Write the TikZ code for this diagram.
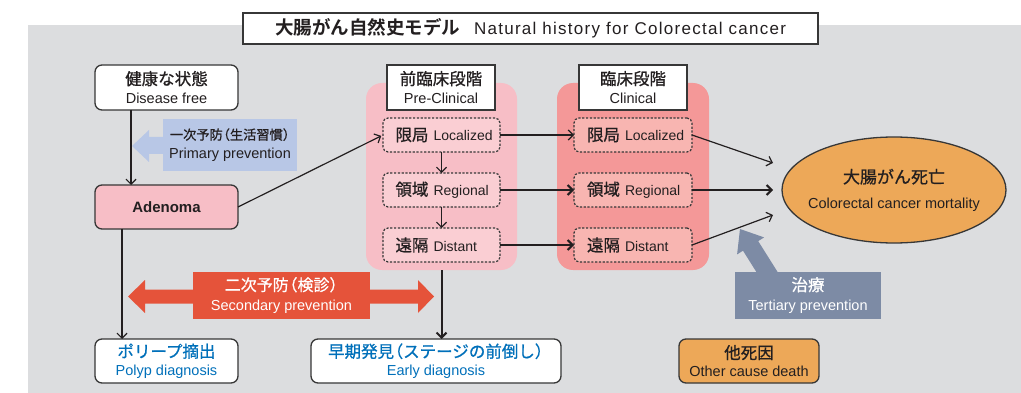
\documentclass[tikz,border=0pt]{standalone}
\usepackage{fontspec}
\setmainfont{Liberation Sans}
\newfontfamily\jp[RawFeature={embolden=0.8}]{Noto Sans CJK JP}
\newfontfamily\jpb{Noto Sans CJK JP Bold}
\usetikzlibrary{arrows.meta,shapes.geometric}
\definecolor{bg}{RGB}{220,221,223}
\definecolor{ink}{RGB}{35,31,32}
\definecolor{edge}{RGB}{55,55,55}
\definecolor{pinkA}{RGB}{247,190,198}
\definecolor{pinkB}{RGB}{250,206,211}
\definecolor{salmonA}{RGB}{244,152,152}
\definecolor{salmonB}{RGB}{248,181,177}
\definecolor{orangeA}{RGB}{237,168,88}
\definecolor{bluetxt}{RGB}{0,112,186}
\definecolor{redA}{RGB}{229,83,58}
\definecolor{slate}{RGB}{125,139,165}
\definecolor{lightblue}{RGB}{184,199,230}
\newcommand{\jpf}[1]{{\jp\fontsize{16.5}{19}\selectfont #1}}
\newcommand{\lpar}{\makebox[0.55em][r]{（}}
\newcommand{\rpar}{\makebox[0.55em][l]{）}}
\tikzset{
  box/.style={draw=edge, line width=1.3pt, rounded corners=7pt, inner sep=0pt, outer sep=0pt,
    align=center, text=ink, font=\fontsize{14.5}{19}\selectfont},
  lblbox/.style={draw=edge, line width=1.3pt, fill=white, inner sep=0pt, outer sep=0pt,
    align=center, text=ink, font=\fontsize{14.5}{19}\selectfont, minimum width=108pt, minimum height=45pt},
  panel/.style={rounded corners=16pt, inner sep=0pt, outer sep=0pt, minimum height=187pt},
  dbox/.style={draw=edge, line width=1.2pt, dash pattern=on 2.2pt off 1.6pt, rounded corners=5pt,
    inner sep=0pt, outer sep=0pt, text=ink, font=\fontsize{14}{18}\selectfont, minimum height=34pt},
  flat/.style={inner sep=0pt, outer sep=0pt, align=center, font=\fontsize{14.5}{20}\selectfont},
  arr/.style={draw=ink, line width=1.2pt, -{Straight Barb[length=5pt,width=10pt]}},
  arrthick/.style={draw=ink, line width=2pt, -{Straight Barb[length=5pt,width=10pt]}},
}
\begin{document}
\begin{tikzpicture}[x=1pt,y=-1pt]
\useasboundingbox (0,0) rectangle (1021,393);
\fill[bg] (28,25) rectangle (1021,393);

% title
\node[draw=edge, line width=1.3pt, fill=white, inner sep=0pt, minimum width=575pt, minimum height=31pt, text=ink] (title) at (530.5,28.5)
  {{\jpb\fontsize{18.5}{20}\selectfont 大腸がん自然史モデル}\hspace{14pt}{\fontsize{17}{20}\selectfont\addfontfeature{LetterSpace=7.5}Natural history for Colorectal cancer}};

% panels
\node[panel, fill=pinkA, minimum width=151pt] (pre) at (441.5,176.5) {};
\node[panel, fill=salmonA, minimum width=152pt] (clin) at (633,176.5) {};
\node[lblbox] (prelbl) at (441,87.5) {\jpf{前臨床段階}\\Pre-Clinical};
\node[lblbox] (clinlbl) at (633,87.5) {\jpf{臨床段階}\\Clinical};

% dashed stage boxes
\node[dbox, fill=pinkB, minimum width=117pt] (preloc) at (441.5,135) {\makebox[92pt][l]{\jpf{限局}\hspace{5pt}Localized}};
\node[dbox, fill=pinkB, minimum width=117pt] (prereg) at (441.5,190) {\makebox[92pt][l]{\jpf{領域}\hspace{5pt}Regional}};
\node[dbox, fill=pinkB, minimum width=117pt] (predist) at (441.5,245) {\makebox[92pt][l]{\jpf{遠隔}\hspace{5pt}Distant}};
\node[dbox, fill=salmonB, minimum width=118pt] (clinloc) at (633,135) {\makebox[92pt][l]{\jpf{限局}\hspace{5pt}Localized}};
\node[dbox, fill=salmonB, minimum width=118pt] (clinreg) at (633,190) {\makebox[92pt][l]{\jpf{領域}\hspace{5pt}Regional}};
\node[dbox, fill=salmonB, minimum width=118pt] (clindist) at (633,245) {\makebox[92pt][l]{\jpf{遠隔}\hspace{5pt}Distant}};

% left boxes
\node[box, fill=white, minimum width=143pt, minimum height=45pt] (dfree) at (166.5,87.5) {\jpf{健康な状態}\\Disease free};
\node[box, fill=pinkA, minimum width=143pt, minimum height=44pt, font=\bfseries\fontsize{15}{19}\selectfont] (adenoma) at (166.5,207) {Adenoma};

% primary prevention arrow
\fill[lightblue] (132,146) -- (149,130) -- (149,137) -- (170,137) -- (170,154) -- (149,154) -- (149,162) -- cycle;
\node[flat, fill=lightblue, text=ink, minimum width=134pt, minimum height=52pt, font=\fontsize{14.5}{19}\selectfont] (primary) at (230,145)
  {{\jp\fontsize{13.2}{19}\selectfont 一次予防\lpar 生活習慣\rpar}\\Primary prevention};

% secondary prevention double arrow
\fill[redA] (128,296.5) -- (145,280) -- (145,289.5) -- (418,289.5) -- (418,280) -- (434,296.5) -- (418,313) -- (418,303.5) -- (145,303.5) -- (145,313) -- cycle;
\node[flat, fill=redA, text=white, minimum width=177pt, minimum height=47pt] (secondary) at (281.5,295.5)
  {{\jp\fontsize{16}{20}\selectfont 二次予防\lpar 検診\rpar}\\Secondary prevention};

% tertiary prevention arrow
\fill[slate] (740,229) -- (764.1,237.4) -- (758.2,241.1) -- (779.5,275.0) -- (764.3,284.6) -- (743.0,250.7) -- (737.1,254.4) -- cycle;
\node[flat, fill=slate, text=white, minimum width=146pt, minimum height=47pt] (tertiary) at (808,295.5)
  {{\jp\fontsize{16.5}{20}\selectfont 治療}\\Tertiary prevention};

% death
\node[draw=edge, line width=1.3pt, fill=orangeA, ellipse, inner sep=0pt, minimum width=224pt, minimum height=106pt] (death) at (894,190) {};
\node[flat, text=ink, font=\fontsize{14.5}{25}\selectfont] (deathtxt) at (death.center)
  {{\jp\fontsize{17}{25}\selectfont 大腸がん死亡}\\Colorectal cancer mortality};

% bottom boxes
\node[box, fill=white, text=bluetxt, minimum width=143pt, minimum height=44pt, font=\fontsize{14.5}{18}\selectfont] (polyp) at (166.5,361) {\jpf{ポリープ摘出}\\Polyp diagnosis};
\node[box, fill=white, text=bluetxt, minimum width=250pt, minimum height=44pt, font=\fontsize{14.5}{18}\selectfont] (early) at (436,361) {{\jp\fontsize{16.5}{18}\selectfont 早期発見\lpar ステージの前倒し\rpar}\\Early diagnosis};
\node[box, fill=orangeA, minimum width=140pt, minimum height=44pt, font=\fontsize{14.5}{18}\selectfont] (other) at (749,361) {\jpf{他死因}\\Other cause death};

% free ends near the ellipse
\coordinate (d1) at (773,163);
\coordinate (d2) at (773,190);
\coordinate (d3) at (773,215);

% connectors
\draw[arr] ([xshift=-35.5pt]dfree.south) -- ([xshift=-35.5pt]adenoma.north);
\draw[arr] ([xshift=-44.5pt]adenoma.south) -- ([xshift=-44.5pt]polyp.north);
\draw[arr, shorten >=2pt] (adenoma.east) -- (preloc.west);
\draw[arr] (preloc.south) -- (prereg.north);
\draw[arr] (prereg.south) -- (predist.north);
\draw[arrthick] (pre.south) -- (pre.south |- early.north);
\draw[arr] (preloc.east) -- (clinloc.west);
\draw[arrthick] (prereg.east) -- (clinreg.west);
\draw[arrthick] (predist.east) -- (clindist.west);
\draw[arr] (clinloc.east) -- (d1);
\draw[arrthick] (clinreg.east) -- (d2);
\draw[arr] (clindist.east) -- (d3);
\end{tikzpicture}
\end{document}
